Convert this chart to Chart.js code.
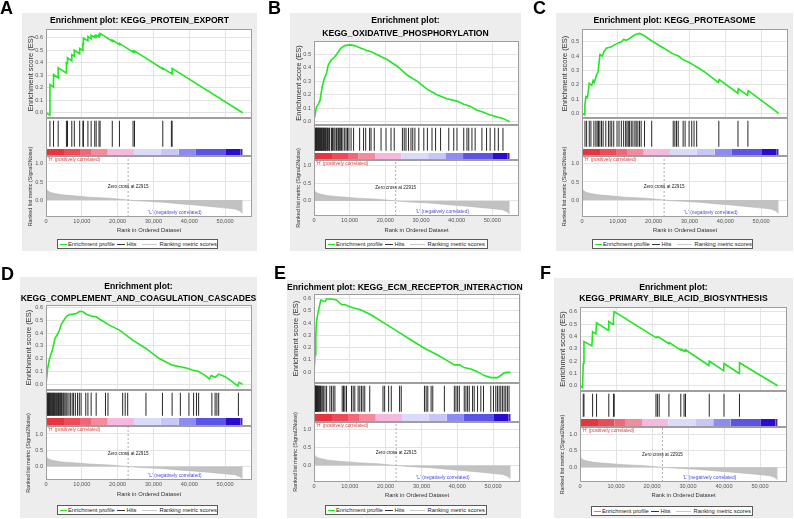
<!DOCTYPE html>
<html><head><meta charset="utf-8">
<script src="https://cdn.jsdelivr.net/npm/chart.js@4.4.1/dist/chart.umd.min.js"></script>
<style>
html,body{margin:0;padding:0;background:#fff;}
body{width:794px;height:519px;position:relative;overflow:hidden;font-family:"Liberation Sans",Arial,sans-serif;}
.box{position:absolute;background:#ededed;}
.letter{position:absolute;font:bold 18px "Liberation Sans",Arial,sans-serif;color:#000;line-height:18px;}
.title{position:absolute;font:bold 8.6px "Liberation Sans",Arial,sans-serif;color:#000;text-align:center;line-height:10px;height:10px;white-space:nowrap;}
canvas{position:absolute;}
.legend{position:absolute;box-sizing:border-box;border:1px solid #5a5a5a;background:#fff;}
.legend span{position:absolute;font:5.8px "Liberation Sans",Arial,sans-serif;color:#222;line-height:8px;top:0;white-space:nowrap;}
.legend i{position:absolute;display:block;top:3.5px;height:0;}
</style></head>
<body>
<script>
// ---------------- data ----------------
const X_MAX = 57500;
const ZERO_CROSS = 22915;
const X_TICKS = [0, 10000, 20000, 30000, 40000, 50000];
const ES_TICKS_06 = [0.0, 0.1, 0.2, 0.3, 0.4, 0.5, 0.6];
const ES_TICKS_05 = [0.0, 0.1, 0.2, 0.3, 0.4, 0.5];
const METRIC_TICKS = [0.0, 0.5, 1.0];

const METRIC_RANKS  = [0, 300, 1000, 2000, 4000, 6000, 8500, 12000, 17700, 21000, 22915, 27000, 32500, 37000, 41700, 45000, 49000, 52800, 54000, 54900];
const METRIC_VALUES = [0.37, 0.27, 0.22, 0.19, 0.15, 0.13, 0.11, 0.08, 0.05, 0.02, 0.0, -0.03, -0.06, -0.10, -0.14, -0.17, -0.21, -0.25, -0.30, -0.37];

const COLOR_BREAKS = [0, 5000, 9500, 12500, 17200, 24500, 32000, 37000, 41800, 50200, 54300, 54900];
const COLOR_BAR_COLORS = ['#e8343f', '#ee4b59', '#f26678', '#f58a9d', '#f6b9de', '#dadafb', '#c7c7f7', '#8c8cf2', '#5b54e7', '#2a0cd1', '#5a1ea8'];

const A_TITLE = ['Enrichment plot: KEGG_PROTEIN_EXPORT'];
const B_TITLE = ['Enrichment plot:', 'KEGG_OXIDATIVE_PHOSPHORYLATION'];
const C_TITLE = ['Enrichment plot: KEGG_PROTEASOME'];
const D_TITLE = ['Enrichment plot:', 'KEGG_COMPLEMENT_AND_COAGULATION_CASCADES'];
const E_TITLE = ['Enrichment plot: KEGG_ECM_RECEPTOR_INTERACTION'];
const F_TITLE = ['Enrichment plot:', 'KEGG_PRIMARY_BILE_ACID_BIOSYNTHESIS'];

const A_ES_RANKS  = [0,1100,1100,2100,2100,3400,3400,5700,5700,6000,6000,7200,7200,7900,7900,9400,9400,10300,10300,10450,10450,11700,11700,12600,12600,13600,13600,14000,14000,14800,14800,15100,15100,18500,18500,20500,20500,24300,24300,24700,24700,32600,32600,35000,35000,35200,35200,54900];
const A_ES_SCORES = [0,-0.02,0.225,0.205,0.305,0.28,0.36,0.317,0.40,0.395,0.44,0.415,0.465,0.452,0.50,0.472,0.515,0.498,0.55,0.548,0.598,0.575,0.61,0.593,0.62,0.602,0.615,0.608,0.62,0.605,0.625,0.62,0.635,0.572,0.582,0.545,0.555,0.485,0.492,0.485,0.495,0.35,0.357,0.313,0.318,0.314,0.355,0.0];
const A_HITS = [1100,2100,3400,5700,6000,7200,7900,9400,10300,10450,11700,12600,13600,14000,14800,15100,18500,20500,24300,24700,32600,35000,35200];

const B_ES_RANKS  = [0,300,700,1200,1700,2300,2900,3500,4000,4900,5800,6600,7500,8600,10000,11400,13200,14600,16000,17900,20600,23400,26200,29000,31800,34500,37300,40100,42000,43800,45600,47500,49400,51200,53000,54900];
const B_ES_SCORES = [0.02,0.05,0.11,0.13,0.16,0.26,0.32,0.36,0.42,0.46,0.48,0.51,0.545,0.565,0.57,0.565,0.545,0.53,0.52,0.495,0.46,0.41,0.345,0.30,0.24,0.20,0.17,0.153,0.13,0.116,0.087,0.07,0.05,0.037,0.025,0.0];
const B_HITS = [150,300,420,560,700,780,900,1050,1180,1300,1450,1600,1700,1850,2050,2150,2300,2500,2650,2750,2900,3100,3250,3400,3650,3800,4000,4300,4400,4900,5150,5300,5600,5900,6300,6700,6900,7200,7500,7700,8100,8600,9000,9400,
  9800,10400,11100,12800,13900,14500,15600,16000,16900,18800,20200,21600,22500,24800,25300,25800,26500,27200,27700,28300,29400,30800,31800,33100,34100,35500,37800,39200,40100,42000,42900,43400,44300,45200,47100,48400,49400,50700,51700,53000];

const C_ES_RANKS  = [0,600,800,1100,1500,1800,2000,2700,3100,3400,4100,4500,5000,5700,6100,6800,8200,9600,11000,11600,12400,13300,14200,15100,16100,17000,17500,19500,22500,25400,26900,28200,29900,31300,32000,34500,38100,38300,43500,43600,46200,46400,54900];
const C_ES_SCORES = [0,-0.01,0.058,0.116,0.11,0.163,0.21,0.195,0.23,0.215,0.27,0.29,0.41,0.40,0.43,0.455,0.465,0.485,0.50,0.516,0.51,0.523,0.54,0.553,0.558,0.547,0.54,0.505,0.46,0.415,0.40,0.375,0.355,0.335,0.325,0.284,0.215,0.235,0.14,0.172,0.125,0.158,0.0];
const C_HITS = [830,1290,2030,2490,3320,3870,4240,4610,4980,5440,5900,6640,7380,7840,8300,8860,9780,10330,10980,11620,12180,12550,12920,13280,13750,14210,14760,15130,15590,16050,16510,17440,19460,25460,25920,26380,26850,28230,28780,29890,30630,31270,32010,38190,43540,46310];

const D_ES_RANKS  = [0,460,900,1300,1800,2500,3100,3700,4300,5000,5700,6600,7600,8500,9400,10300,11400,12600,14000,14900,17700,20500,24200,27900,31500,35200,37500,39400,40800,42600,44500,45600,46100,47200,48200,50000,51800,53500,53900,54900];
const D_ES_SCORES = [0,0.125,0.19,0.23,0.27,0.36,0.385,0.42,0.47,0.50,0.53,0.545,0.548,0.553,0.57,0.566,0.545,0.533,0.527,0.51,0.462,0.423,0.345,0.28,0.203,0.15,0.138,0.125,0.112,0.1,0.068,0.042,0.068,0.055,0.08,0.06,0.026,-0.013,0.016,0.0];
const D_HITS = [200,400,550,700,900,1000,1200,1350,1500,1750,1900,2100,2300,2450,2600,2900,3100,3300,3500,3700,3900,4100,4300,4500,4800,5000,5300,5600,5900,6400,6800,7300,7700,8200,8800,9300,9800,
  11100,11700,12600,14000,16600,17300,21400,22100,22800,27900,32500,35200,37500,39900,41200,42000,42600,46300,47200,47700,48200,53700];

const E_ES_RANKS  = [0,300,500,700,1000,1400,1900,2600,3100,3500,4900,6300,7200,7900,8600,9500,10900,13200,16000,19700,23400,27100,30800,34500,37300,39200,40600,41900,43800,45600,47500,49400,51200,52300,53200,54900];
const E_ES_SCORES = [0,0.14,0.30,0.41,0.465,0.52,0.586,0.578,0.573,0.595,0.595,0.586,0.56,0.546,0.55,0.538,0.524,0.505,0.465,0.397,0.33,0.262,0.195,0.14,0.092,0.06,0.06,0.038,0.027,0.005,-0.027,-0.043,-0.043,-0.022,-0.003,0.0];
const E_HITS = [80,180,260,350,430,520,600,690,800,900,1000,1150,1300,1450,1600,1800,2000,2300,2600,
  3060,3520,4440,4910,5370,5830,7870,8240,8610,9070,10460,10930,11390,12310,12780,13240,13700,14170,15560,19260,19720,20830,21570,23890,24350,30830,31300,31760,32690,33150,36390,39170,39630,40090,40560,41940,42410,42870,43330,44260,44720,45650,46570,47310,49350,50090,50740,51200,51670,52130,52590,53060,53520,53980,54440];

const F_ES_RANKS  = [0,700,900,1100,3300,3500,4400,4600,7800,8000,9200,9300,9500,21100,21300,21500,21700,22000,24700,24800,28000,28100,28900,29000,29300,29400,35800,35900,39900,40000,44200,44300,54900];
const F_ES_SCORES = [0,-0.016,0.18,0.357,0.322,0.438,0.42,0.51,0.45,0.52,0.497,0.554,0.60,0.39,0.395,0.39,0.397,0.392,0.34,0.35,0.288,0.295,0.28,0.287,0.282,0.289,0.164,0.198,0.122,0.18,0.1,0.186,0.0];
const F_HITS = [900,1100,3500,4600,8000,9300,9500,21100,21500,22000,24700,28000,28900,29300,35900,40000,44300];

const ES_AXIS_TITLE = 'Enrichment score (ES)';
const METRIC_AXIS_TITLE = 'Ranked list metric (Signal2Noise)';
const X_AXIS_TITLE = 'Rank in Ordered Dataset';
const H_LABEL = "'H' (positively correlated)";
const L_LABEL = "'L' (negatively correlated)";
const L_LABEL_RANK = 36000;
const ZERO_LABEL = 'Zero cross at ' + ZERO_CROSS;
const LEGEND_LABELS = ['Enrichment profile', 'Hits', 'Ranking metric scores'];

// ---------------- layout ----------------
const PANELS = [
  {letter:'A', lp:[0,-1], title:A_TITLE, titleY:[20], r:A_ES_RANKS, s:A_ES_SCORES, hits:A_HITS, esTicks:ES_TICKS_06,
   box:[22,13,257,251], L:46, R:252, esTop:29, esBot:118, barTop:149, barBot:156, metBot:217, xTitleY:230, legend:[57,239,218,249],
   es:[-0.042,0.67], met:[-0.47,1.22]},
  {letter:'B', lp:[268,-1], title:B_TITLE, titleY:[20,33], r:B_ES_RANKS, s:B_ES_SCORES, hits:B_HITS, esTicks:ES_TICKS_05,
   box:[290,13,521,251], L:314, R:519, esTop:41, esBot:125, barTop:153, barBot:160, metBot:216, xTitleY:230, legend:[325,239,488,249],
   es:[-0.024,0.599], met:[-0.43,1.17]},
  {letter:'C', lp:[533,-1], title:C_TITLE, titleY:[20], r:C_ES_RANKS, s:C_ES_SCORES, hits:C_HITS, esTicks:ES_TICKS_05,
   box:[556,13,793,251], L:582, R:788, esTop:29, esBot:118, barTop:149, barBot:156, metBot:217, xTitleY:230, legend:[592,239,753,249],
   es:[-0.033,0.589], met:[-0.47,1.22]},
  {letter:'D', lp:[1,265], title:D_TITLE, titleY:[286,298], r:D_ES_RANKS, s:D_ES_SCORES, hits:D_HITS, esTicks:ES_TICKS_06,
   box:[20,277,257,518], L:46, R:252, esTop:305, esBot:390, barTop:418, barBot:426, metBot:480, xTitleY:494.5, legend:[57,505,218,515],
   es:[-0.044,0.619], met:[-0.41,1.245]},
  {letter:'E', lp:[274,264], title:E_TITLE, titleY:[287], r:E_ES_RANKS, s:E_ES_SCORES, hits:E_HITS, esTicks:ES_TICKS_06,
   box:[287,280,521,518], L:314, R:520, esTop:294, esBot:383, barTop:414, barBot:422, metBot:482, xTitleY:495, legend:[325,505,487,515],
   es:[-0.087,0.635], met:[-0.46,1.22]},
  {letter:'F', lp:[540,264], title:F_TITLE, titleY:[287,298.3], r:F_ES_RANKS, s:F_ES_SCORES, hits:F_HITS, esTicks:ES_TICKS_06,
   box:[554,278,793,518], L:580, R:787, esTop:307, esBot:391, barTop:419, barBot:427, metBot:482, xTitleY:495.7, legend:[591,506,753,516],
   es:[-0.043,0.638], met:[-0.44,1.21]}
];

Chart.defaults.font.family = '"Liberation Sans", Arial, sans-serif';
Chart.defaults.animation = false;

const GRID = '#e3e3e3';
const TICK_COLOR = '#555';
const TICK_FONT = {size: 5.6};

const framePlugin = {
  id: 'frame',
  beforeDraw(chart) {
    const {ctx, chartArea: a} = chart;
    ctx.save(); ctx.fillStyle = '#fff'; ctx.fillRect(a.left, a.top, a.width, a.height); ctx.restore();
  },
  afterDraw(chart) {
    const {ctx, chartArea: a} = chart;
    ctx.save(); ctx.strokeStyle = '#9e9e9e'; ctx.lineWidth = 1;
    ctx.strokeRect(Math.round(a.left) + 0.5, Math.round(a.top) + 0.5, Math.round(a.width) - 1, Math.round(a.height) - 1);
    ctx.restore();
  }
};

const metricTextPlugin = {
  id: 'metricText',
  afterDatasetsDraw(chart) {
    const {ctx, chartArea: a, scales: {x, y}} = chart;
    ctx.save();
    ctx.textBaseline = 'middle';
    ctx.font = '4.8px "Liberation Sans", Arial, sans-serif';
    ctx.fillStyle = '#e23a3a'; ctx.textAlign = 'left';
    ctx.fillText(H_LABEL, a.left + 2, a.top + 3.5);
    ctx.fillStyle = '#4848e6'; ctx.textAlign = 'center';
    ctx.fillText(L_LABEL, x.getPixelForValue(L_LABEL_RANK), a.bottom - 4.5);
    ctx.font = '4.6px "Liberation Sans", Arial, sans-serif';
    ctx.fillStyle = '#222';
    ctx.fillText(ZERO_LABEL, x.getPixelForValue(ZERO_CROSS), y.getPixelForValue(0) - 13);
    ctx.restore();
  }
};

function makeCanvas(x, y, w, h) {
  const c = document.createElement('canvas');
  c.width = w; c.height = h;
  c.style.left = x + 'px'; c.style.top = y + 'px';
  c.style.width = w + 'px'; c.style.height = h + 'px';
  document.body.appendChild(c);
  return c;
}
function div(cls, x, y, w, h, text) {
  const d = document.createElement('div');
  d.className = cls;
  d.style.left = x + 'px'; d.style.top = y + 'px';
  if (w != null) d.style.width = w + 'px';
  if (h != null) d.style.height = h + 'px';
  if (text != null) d.textContent = text;
  document.body.appendChild(d);
  return d;
}
const fixTicks = (arr) => (s) => { s.ticks = arr.map(v => ({value: v})); };

function xScale(extra) {
  return Object.assign({
    type: 'linear', min: 0, max: X_MAX, offset: false,
    afterBuildTicks: fixTicks(X_TICKS),
    grid: {color: GRID, drawTicks: false, offset: false},
    border: {display: false},
    ticks: {display: false}
  }, extra);
}

function buildPanel(p) {
  const [bx0, by0, bx1, by1] = p.box;
  const W = bx1 - bx0;
  const yAxisW = p.L - bx0;
  const padR = bx1 - p.R;

  div('box', bx0, by0, W, by1 - by0);

  // ---- ranked metric chart ----
  const mTop = p.esBot;
  const mBottom = p.legend[1] - 1;
  const xTitleFont = 5.8;
  const titlePadB = mBottom - p.xTitleY - xTitleFont * 1.2 / 2;
  const mc = makeCanvas(bx0, mTop, W, mBottom - mTop);
  new Chart(mc, {
    type: 'line',
    data: {datasets: [
      {data: METRIC_RANKS.map((r, i) => ({x: r, y: METRIC_VALUES[i]})), borderColor: '#b5b5b5', borderWidth: 0.6,
       backgroundColor: '#c2c2c2', fill: 'origin', pointRadius: 0, tension: 0},
      {data: [{x: ZERO_CROSS, y: p.met[0]}, {x: ZERO_CROSS, y: p.met[1]}], borderColor: '#9a9a9a', borderWidth: 0.8,
       borderDash: [2, 2], pointRadius: 0, fill: false}
    ]},
    options: {
      responsive: false, maintainAspectRatio: false, events: [],
      layout: {padding: {left: 0, right: padR, top: p.barBot - mTop, bottom: 0}},
      plugins: {legend: {display: false}, tooltip: {enabled: false}},
      scales: {
        x: xScale({
          ticks: {display: true, padding: 1, font: TICK_FONT, color: TICK_COLOR, maxRotation: 0, autoSkip: false,
                  callback: v => Number(v).toLocaleString('en-US')},
          title: {display: true, text: X_AXIS_TITLE, color: '#333', font: {size: xTitleFont}, padding: {top: 0, bottom: titlePadB}},
          afterFit: s => { s.height = mBottom - p.metBot; s.paddingLeft = 0; s.paddingRight = 0; }
        }),
        y: {
          type: 'linear', min: p.met[0], max: p.met[1],
          afterBuildTicks: fixTicks(METRIC_TICKS),
          ticks: {font: TICK_FONT, color: TICK_COLOR, padding: 3, callback: v => Number(v).toFixed(1)},
          grid: {color: GRID, drawTicks: false},
          border: {display: false},
          title: {display: true, text: METRIC_AXIS_TITLE, color: '#333', font: {size: 5.4}, padding: {top: 4.8, bottom: 0}},
          afterFit: s => { s.width = yAxisW; s.paddingTop = 0; s.paddingBottom = 0; }
        }
      }
    },
    plugins: [framePlugin, metricTextPlugin]
  });

  // ---- hits + colour bar chart ----
  const hH = p.barBot - p.esBot;
  const barFrac = (p.barBot - p.barTop) / hH;
  const hitLo = (p.barBot - p.barTop + 2.3) / hH;
  const hitHi = 1 - 2.7 / hH;
  const hc = makeCanvas(bx0, p.esBot, W, hH);
  const colorSets = COLOR_BAR_COLORS.map((col, i) => ({
    type: 'line',
    data: [{x: COLOR_BREAKS[i], y: barFrac}, {x: COLOR_BREAKS[i + 1] + (i < COLOR_BAR_COLORS.length - 1 ? 60 : 0), y: barFrac}],
    backgroundColor: col, borderWidth: 0, borderColor: col, pointRadius: 0, fill: 'origin', tension: 0
  }));
  new Chart(hc, {
    type: 'bar',
    data: {datasets: [
      {type: 'bar', data: p.hits.map(r => ({x: r, y: [hitLo, hitHi]})), backgroundColor: '#262626',
       barThickness: 1, borderWidth: 0, inflateAmount: 0}
    ].concat(colorSets)},
    options: {
      responsive: false, maintainAspectRatio: false, events: [],
      layout: {padding: {left: yAxisW, right: padR, top: 0, bottom: 0}},
      plugins: {legend: {display: false}, tooltip: {enabled: false}},
      scales: {
        x: xScale({display: false}),
        y: {type: 'linear', min: 0, max: 1, display: false}
      }
    },
    plugins: [framePlugin]
  });

  // ---- ES chart ----
  const extra = 6;
  const ec = makeCanvas(bx0, p.esTop - extra, W, p.esBot - p.esTop + extra);
  new Chart(ec, {
    type: 'line',
    data: {datasets: [
      {data: p.r.map((r, i) => ({x: r, y: p.s[i]})), borderColor: '#22e622', borderWidth: 1.6, pointRadius: 0, tension: 0, fill: false}
    ]},
    options: {
      responsive: false, maintainAspectRatio: false, events: [],
      layout: {padding: {left: 0, right: padR, top: extra, bottom: 0}},
      plugins: {legend: {display: false}, tooltip: {enabled: false}},
      scales: {
        x: xScale({afterFit: s => { s.height = 0; s.paddingLeft = 0; s.paddingRight = 0; }}),
        y: {
          type: 'linear', min: p.es[0], max: p.es[1],
          afterBuildTicks: fixTicks(p.esTicks),
          ticks: {font: TICK_FONT, color: TICK_COLOR, padding: 3, callback: v => Number(v).toFixed(1)},
          grid: {color: GRID, drawTicks: false},
          border: {display: false},
          title: {display: true, text: ES_AXIS_TITLE, color: '#333', font: {size: 7.5}, padding: {top: 4.5, bottom: 0}},
          afterFit: s => { s.width = yAxisW; s.paddingTop = 0; s.paddingBottom = 0; }
        }
      }
    },
    plugins: [framePlugin]
  });

  // ---- title, letter, legend ----
  p.title.forEach((t, i) => div('title', bx0, p.titleY[i] - 5, W, 10, t));
  div('letter', p.lp[0], p.lp[1], null, null, p.letter);

  const [lx0, ly0, lx1, ly1] = p.legend;
  const lg = div('legend', lx0, ly0, lx1 - lx0, ly1 - ly0);
  const sw = [['#22e622', 1.6, 1.5, 7.5], ['#333', 1, 59, 7.5], ['#c8c8c8', 1, 84, 15]];
  const tx = [10, 68.5, 101.5];
  sw.forEach(([c, w, x, len]) => {
    const i = document.createElement('i');
    i.style.left = x + 'px'; i.style.width = len + 'px'; i.style.borderTop = w + 'px solid ' + c;
    lg.appendChild(i);
  });
  LEGEND_LABELS.forEach((t, k) => {
    const s = document.createElement('span');
    s.style.left = tx[k] + 'px'; s.textContent = t;
    lg.appendChild(s);
  });
}

PANELS.forEach(buildPanel);
</script>
</body></html>
